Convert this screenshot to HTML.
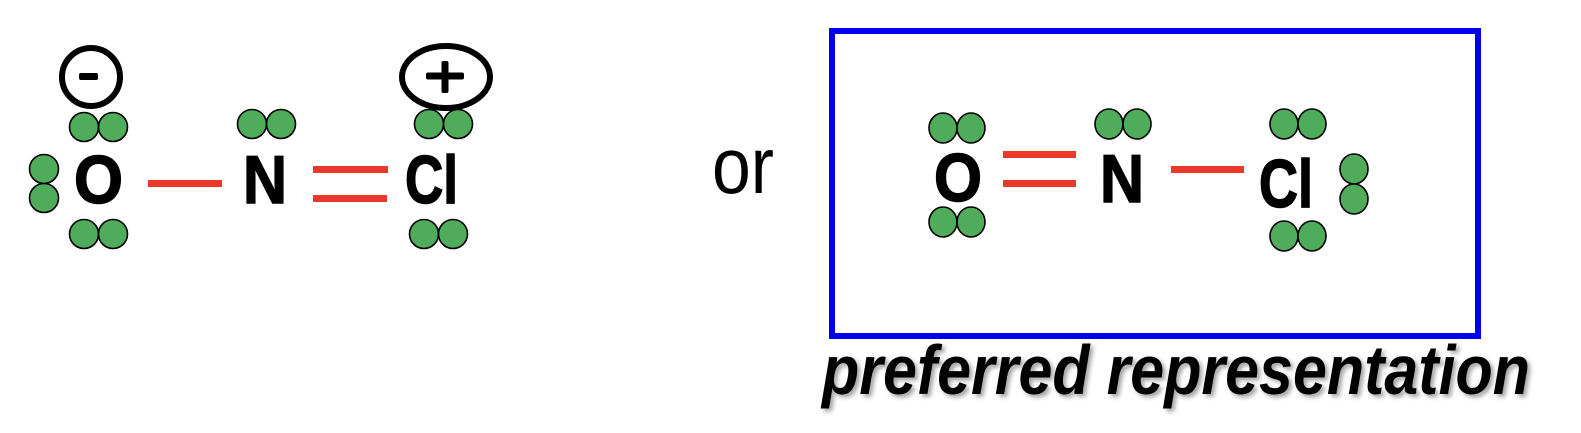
<!DOCTYPE html>
<html><head><meta charset="utf-8"><style>
html,body{margin:0;padding:0;background:#fff;}
svg{display:block;}
text{font-family:"Liberation Sans",sans-serif;}
</style></head><body>
<svg width="1581" height="433" viewBox="0 0 1581 433">
<defs>
<filter id="sh" x="-5%" y="-20%" width="110%" height="140%"><feDropShadow dx="3" dy="3" stdDeviation="2" flood-color="#000" flood-opacity="0.35"/></filter>
</defs>
<g>
  <g>
    <circle cx="91" cy="77" r="29" fill="none" stroke="#000" stroke-width="6"/>
    <rect x="79" y="73" width="19" height="7" rx="2" fill="#000"/>
  </g>
  <g>
    <ellipse cx="446" cy="77" rx="44" ry="31" fill="none" stroke="#000" stroke-width="6"/>
    <rect x="426" y="72.5" width="38" height="7" rx="2" fill="#000"/>
    <rect x="441.5" y="61" width="7" height="32" rx="2" fill="#000"/>
  </g>
  <g fill="#4fac5b" stroke="#000" stroke-width="1.6">
    <circle cx="84" cy="127" r="14.5"/><circle cx="113" cy="127" r="14.5"/>
    <circle cx="44" cy="169" r="14.5"/><circle cx="44" cy="198" r="14.5"/>
    <circle cx="84" cy="234" r="14.5"/><circle cx="113" cy="234" r="14.5"/>
    <circle cx="252" cy="124" r="14.5"/><circle cx="281" cy="124" r="14.5"/>
    <circle cx="429" cy="124" r="14.5"/><circle cx="458" cy="124" r="14.5"/>
    <circle cx="424" cy="234" r="14.5"/><circle cx="453" cy="234" r="14.5"/>
  </g>
  <text x="74" y="203" font-size="68" font-weight="bold" stroke="#000" stroke-width="1.5" textLength="49" lengthAdjust="spacingAndGlyphs">O</text>
  <text x="243" y="203" font-size="68" font-weight="bold" stroke="#000" stroke-width="1.5" textLength="44" lengthAdjust="spacingAndGlyphs">N</text>
  <text x="405" y="203" font-size="68" font-weight="bold" stroke="#000" stroke-width="1.5" textLength="53" lengthAdjust="spacingAndGlyphs">Cl</text>
  <rect x="148" y="180" width="74" height="7" fill="#e8392b"/>
  <g fill="#e8392b">
    <rect x="313" y="166" width="75" height="7"/>
    <rect x="313" y="195" width="74" height="7"/>
  </g>
</g>
<text x="712" y="193" font-size="80" textLength="62" lengthAdjust="spacingAndGlyphs">or</text>
<g>
  <rect x="832" y="31" width="646" height="305" fill="none" stroke="#0000ee" stroke-width="6"/>
  <g fill="#4fac5b" stroke="#000" stroke-width="1.6">
    <ellipse cx="943" cy="128" rx="14" ry="15"/><ellipse cx="971" cy="128" rx="14" ry="15"/>
    <ellipse cx="943" cy="222" rx="14" ry="15"/><ellipse cx="971" cy="222" rx="14" ry="15"/>
    <ellipse cx="1109" cy="124" rx="14" ry="15"/><ellipse cx="1137" cy="124" rx="14" ry="15"/>
    <ellipse cx="1284" cy="124" rx="14" ry="15"/><ellipse cx="1312" cy="124" rx="14" ry="15"/>
    <ellipse cx="1284" cy="236" rx="14" ry="15"/><ellipse cx="1312" cy="236" rx="14" ry="15"/>
    <ellipse cx="1354" cy="169" rx="14" ry="15"/><ellipse cx="1354" cy="199" rx="14" ry="15"/>
  </g>
  <text x="934" y="201" font-size="68" font-weight="bold" stroke="#000" stroke-width="1.5" textLength="48" lengthAdjust="spacingAndGlyphs">O</text>
  <text x="1100" y="202" font-size="68" font-weight="bold" stroke="#000" stroke-width="1.5" textLength="44" lengthAdjust="spacingAndGlyphs">N</text>
  <text x="1259" y="207" font-size="68" font-weight="bold" stroke="#000" stroke-width="1.5" textLength="54" lengthAdjust="spacingAndGlyphs">Cl</text>
  <g fill="#e8392b">
    <rect x="1003" y="151" width="73" height="7"/>
    <rect x="1003" y="180" width="73" height="7"/>
  </g>
  <rect x="1171" y="166" width="73" height="7" fill="#e8392b"/>
</g>
<text x="822" y="394" font-size="70" font-weight="bold" font-style="italic" textLength="708" lengthAdjust="spacingAndGlyphs" filter="url(#sh)">preferred representation</text>
</svg>
</body></html>
